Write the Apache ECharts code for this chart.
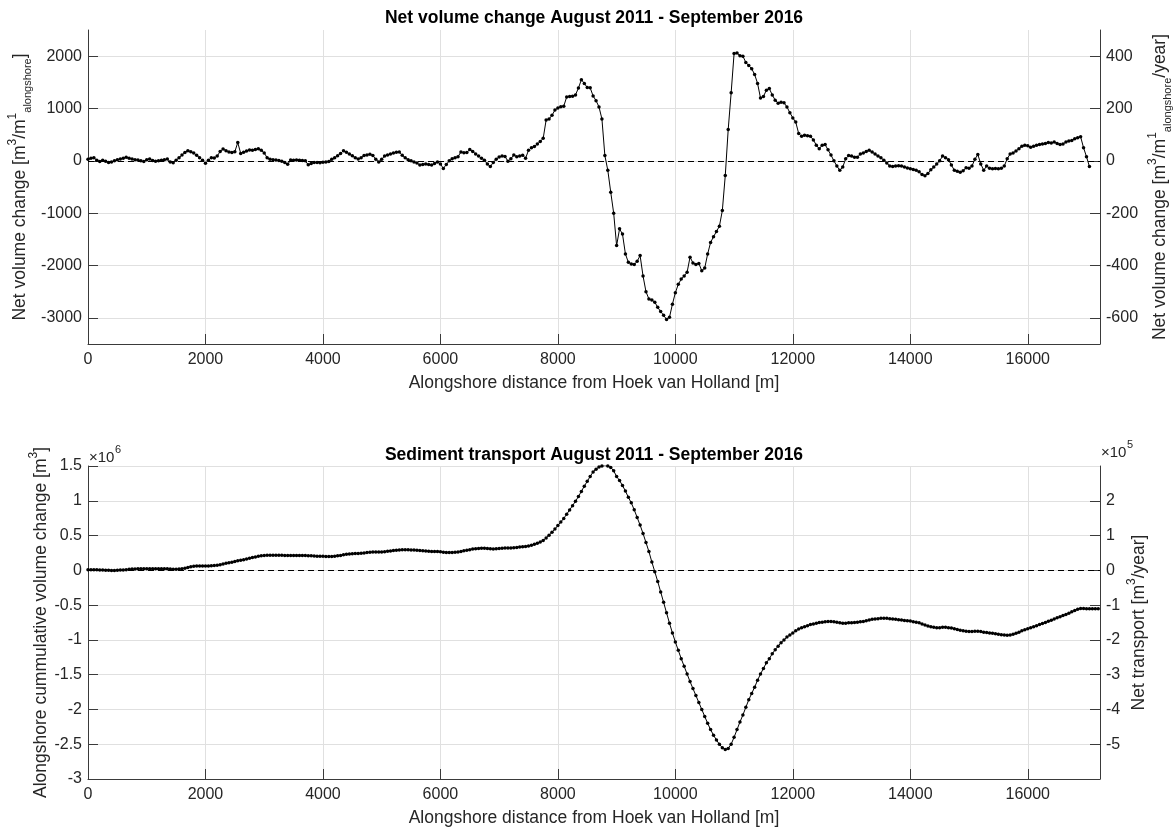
<!DOCTYPE html>
<html><head><meta charset="utf-8">
<script src="https://cdn.jsdelivr.net/npm/echarts@6/dist/echarts.min.js"></script>
<style>html,body{margin:0;padding:0;background:#fff}#c{width:1176px;height:828px}</style>
</head><body><div id="c"></div>
<script>
// Net volume change [m3/m alongshore], sampled every 50 m from 0 m
const netVolumeChange = [
30,50,60,10,-15,10,-10,-30,-20,0,20,35,50,70,50,35,20,15,0,-15,20,35,5,-10,0,10,20,35,-20,-35,10,60,110,160,195,175,150,105,60,10,-45,
10,60,55,90,180,225,195,170,160,175,350,140,165,190,205,200,215,230,200,150,60,30,20,15,5,-10,-30,-65,15,10,15,10,5,0,-75,-50,-30,-30,-35,-25,
-20,-15,30,60,95,140,195,165,130,95,60,35,60,100,110,125,100,30,-20,30,90,110,130,150,165,170,105,60,20,0,-20,-40,-80,-70,-60,-70,-80,-50,-20,-60,
-145,-70,0,40,60,80,170,155,160,215,180,130,90,50,10,-60,-110,-30,30,75,90,85,-10,40,110,80,90,105,50,200,250,275,320,370,430,780,800,870,970,1010,
1035,1045,1220,1230,1235,1260,1390,1550,1480,1400,1395,1240,1150,1030,800,100,-180,-600,-1000,-1620,-1300,-1400,-1780,-1940,-1970,-1980,-1920,-1810,-2200,-2500,-2640,-2660,-2700,-2800,-2880,-2950,-3030,-2990,-2740,-2520,
-2360,-2260,-2200,-2130,-1840,-1950,-1980,-1960,-2100,-2050,-1780,-1560,-1450,-1350,-1250,-950,-280,600,1300,2050,2060,2010,2000,1880,1820,1760,1650,1480,1200,1230,1350,1380,1260,1160,1100,1120,1110,1030,920,820,
740,520,470,490,480,470,400,300,230,300,310,210,110,0,-100,-180,-120,40,100,90,70,70,130,150,180,200,170,130,90,60,10,-40,-100,-110,-100,-95,-100,-120,-135,-150,
-165,-180,-210,-260,-285,-240,-170,-120,-60,0,90,60,20,-80,-180,-200,-220,-190,-130,-140,-100,30,120,-60,-180,-100,-140,-150,-145,-150,-140,-100,40,130,150,190,230,280,300,290,
260,280,300,310,320,330,350,340,360,330,310,320,360,380,390,420,440,460,250,80,-110
];
// Alongshore cumulative volume change [10^6 m3], sampled every 50 m from 0 m
const cumulativeChange = [
0.01,0.01,0.01,0.008,0.006,0.004,0.002,0,-0.002,-0.002,0,0.003,0.006,0.01,0.014,0.018,0.02,0.022,0.022,0.022,0.023,0.024,0.024,0.023,0.023,0.022,0.022,0.021,0.02,0.017,0.016,0.018,0.022,0.03,0.04,0.05,0.057,0.062,0.064,0.064,0.063,
0.063,0.065,0.068,0.073,0.082,0.092,0.102,0.11,0.118,0.127,0.137,0.145,0.153,0.163,0.173,0.183,0.193,0.203,0.21,0.215,0.217,0.218,0.218,0.218,0.217,0.216,0.215,0.213,0.213,0.213,0.214,0.214,0.214,0.213,0.211,0.208,0.206,0.204,0.203,0.201,
0.2,0.199,0.2,0.203,0.208,0.215,0.223,0.23,0.236,0.24,0.242,0.243,0.246,0.25,0.255,0.26,0.264,0.264,0.263,0.265,0.268,0.273,0.279,0.285,0.29,0.293,0.295,0.295,0.295,0.294,0.293,0.29,0.286,0.282,0.279,0.276,0.272,0.27,0.269,0.266,
0.261,0.258,0.257,0.258,0.26,0.264,0.272,0.28,0.288,0.297,0.305,0.311,0.315,0.316,0.316,0.313,0.309,0.308,0.309,0.313,0.317,0.321,0.321,0.322,0.326,0.33,0.334,0.339,0.341,0.349,0.361,0.375,0.39,0.408,0.43,0.466,0.505,0.547,0.594,0.644,
0.695,0.747,0.807,0.869,0.93,0.993,1.06,1.135,1.21,1.28,1.35,1.415,1.455,1.485,1.5,1.505,1.5,1.48,1.43,1.35,1.29,1.22,1.14,1.05,0.97,0.87,0.76,0.65,0.53,0.4,0.27,0.12,-0.02,-0.16,-0.31,-0.46,-0.61,-0.76,-0.9,-1.03,
-1.15,-1.27,-1.38,-1.49,-1.6,-1.7,-1.8,-1.9,-2.0,-2.1,-2.2,-2.29,-2.37,-2.44,-2.5,-2.55,-2.575,-2.56,-2.5,-2.4,-2.29,-2.18,-2.08,-1.97,-1.86,-1.77,-1.68,-1.58,-1.49,-1.41,-1.33,-1.27,-1.2,-1.14,-1.09,-1.04,-1.0,-0.96,-0.93,-0.9,
-0.87,-0.845,-0.825,-0.81,-0.795,-0.78,-0.77,-0.76,-0.75,-0.745,-0.74,-0.735,-0.735,-0.74,-0.745,-0.755,-0.76,-0.76,-0.755,-0.755,-0.75,-0.745,-0.74,-0.735,-0.725,-0.715,-0.705,-0.7,-0.695,-0.69,-0.69,-0.69,-0.695,-0.7,-0.705,-0.71,-0.715,-0.72,-0.725,-0.73,
-0.74,-0.745,-0.755,-0.77,-0.785,-0.8,-0.81,-0.82,-0.825,-0.825,-0.82,-0.82,-0.825,-0.83,-0.84,-0.85,-0.86,-0.87,-0.875,-0.88,-0.88,-0.875,-0.875,-0.88,-0.89,-0.895,-0.9,-0.905,-0.91,-0.92,-0.925,-0.93,-0.935,-0.93,-0.92,-0.905,-0.89,-0.87,-0.855,-0.84,
-0.825,-0.81,-0.795,-0.78,-0.765,-0.75,-0.733,-0.716,-0.7,-0.683,-0.667,-0.651,-0.634,-0.616,-0.597,-0.578,-0.56,-0.55,-0.55,-0.552,-0.553,-0.553,-0.553,-0.553
];
const SAMPLE_STEP = 50;      // m between samples
const X_MAX = 17230;
const xTicks = [0,2000,4000,6000,8000,10000,12000,14000,16000];
const topLeftTicks = [-3000,-2000,-1000,0,1000,2000];
const topRightTicks = [-600,-400,-200,0,200,400];
const botRightTicks = [-5,-4,-3,-2,-1,0,1,2];

const FONT = '"Liberation Sans", Arial, Helvetica, sans-serif';
const TXT = '#262626', AX = '#3a3a3a', GRID = '#e0e0e0';

const rich = {
  sup: {fontSize: 12, lineHeight: 12, verticalAlign: 'top', color: TXT, fontFamily: FONT},
  sub: {fontSize: 11, lineHeight: 11, verticalAlign: 'bottom', color: TXT, fontFamily: FONT}
};
const nameStyle = {fontSize: 17.5, lineHeight: 26, color: TXT, fontFamily: FONT, rich: rich};
const labelStyle = {color: TXT, fontSize: 16, fontFamily: FONT};

function xAxisCfg(g) {
  return {
    type: 'value', gridIndex: g, min: 0, max: X_MAX,
    axisLine: {show: true, onZero: false, lineStyle: {color: AX, width: 1}},
    axisTick: {show: true, inside: true, length: 10, customValues: xTicks, lineStyle: {color: AX}},
    axisLabel: Object.assign({customValues: xTicks, margin: 8, formatter: v => String(v)}, labelStyle),
    splitLine: {show: true, lineStyle: {color: GRID, width: 1}},
    name: 'Alongshore distance from Hoek van Holland [m]', nameLocation: 'middle', nameGap: 30,
    nameMoveOverlap: false,
    nameTextStyle: {fontSize: 17.5, color: TXT, fontFamily: FONT}
  };
}
function yAxisCfg(g, pos, min, max, ticks, interval, name, gap, grid) {
  const c = {
    type: 'value', gridIndex: g, position: pos, min: min, max: max,
    axisLine: {show: true, onZero: false, lineStyle: {color: AX, width: 1}},
    axisTick: {show: true, inside: true, length: 10, lineStyle: {color: AX}},
    axisLabel: Object.assign({margin: 6, formatter: v => String(+(+v).toFixed(3))}, labelStyle),
    splitLine: {show: grid, lineStyle: {color: GRID, width: 1}},
    name: name, nameLocation: 'middle', nameGap: gap, nameMoveOverlap: false, nameTextStyle: nameStyle
  };
  if (ticks) { c.axisTick.customValues = ticks; c.axisLabel.customValues = ticks; }
  if (interval) c.interval = interval;
  return c;
}
const zeroLine = {
  silent: true, symbol: ['none', 'none'], label: {show: false},
  lineStyle: {color: '#000', type: [6, 4], width: 1},
  data: [{yAxis: 0}]
};

const chart = echarts.init(document.getElementById('c'), null, {renderer: 'canvas'});
chart.setOption({
  animation: false,
  backgroundColor: '#fff',
  grid: [
    {left: 88, top: 30, width: 1012, height: 314, containLabel: false, outerBoundsMode: 'none'},
    {left: 88, top: 466, width: 1012, height: 313, containLabel: false, outerBoundsMode: 'none'}
  ],
  xAxis: [xAxisCfg(0), xAxisCfg(1)],
  yAxis: [
    yAxisCfg(0, 'left', -3500, 2500, topLeftTicks, null, 'Net volume change [m{sup|3}/m{sup|1}{sub|alongshore}]', 55, true),
    yAxisCfg(0, 'right', -700, 500, topRightTicks, null, 'Net volume change [m{sup|3}/m{sup|1}{sub|alongshore}/year]', 47, false),
    yAxisCfg(1, 'left', -3, 1.5, null, 0.5, 'Alongshore cummulative volume change [m{sup|3}]', 34, true),
    yAxisCfg(1, 'right', -6, 3, botRightTicks, null, 'Net transport [m{sup|3}/year]', 26, false)
  ],
  series: [
    {
      type: 'line', xAxisIndex: 0, yAxisIndex: 0,
      data: netVolumeChange.map((v, i) => [i * SAMPLE_STEP, v]),
      symbol: 'circle', symbolSize: 3.5, showSymbol: true,
      lineStyle: {color: '#000', width: 1}, itemStyle: {color: '#000'},
      markLine: zeroLine, z: 3
    },
    {
      type: 'line', xAxisIndex: 1, yAxisIndex: 2,
      data: cumulativeChange.map((v, i) => [i * SAMPLE_STEP, v]),
      symbol: 'circle', symbolSize: 3.5, showSymbol: true,
      lineStyle: {color: '#000', width: 1}, itemStyle: {color: '#000'},
      markLine: zeroLine, z: 3
    }
  ],
  graphic: [
    {type: 'text', x: 594, y: 18, style: {text: 'Net volume change August 2011 - September 2016', font: 'bold 17.5px ' + FONT, fill: '#000', align: 'center', verticalAlign: 'middle'}},
    {type: 'text', x: 594, y: 455, style: {text: 'Sediment transport August 2011 - September 2016', font: 'bold 17.5px ' + FONT, fill: '#000', align: 'center', verticalAlign: 'middle'}},
    {type: 'text', x: 89, y: 458, style: {text: '\u00d710', font: '15px ' + FONT, fill: TXT, align: 'left', verticalAlign: 'middle'}},
    {type: 'text', x: 115, y: 450, style: {text: '6', font: '11px ' + FONT, fill: TXT, align: 'left', verticalAlign: 'middle'}},
    {type: 'text', x: 1101, y: 453, style: {text: '\u00d710', font: '15px ' + FONT, fill: TXT, align: 'left', verticalAlign: 'middle'}},
    {type: 'text', x: 1127, y: 445, style: {text: '5', font: '11px ' + FONT, fill: TXT, align: 'left', verticalAlign: 'middle'}}
  ]
});
</script></body></html>
